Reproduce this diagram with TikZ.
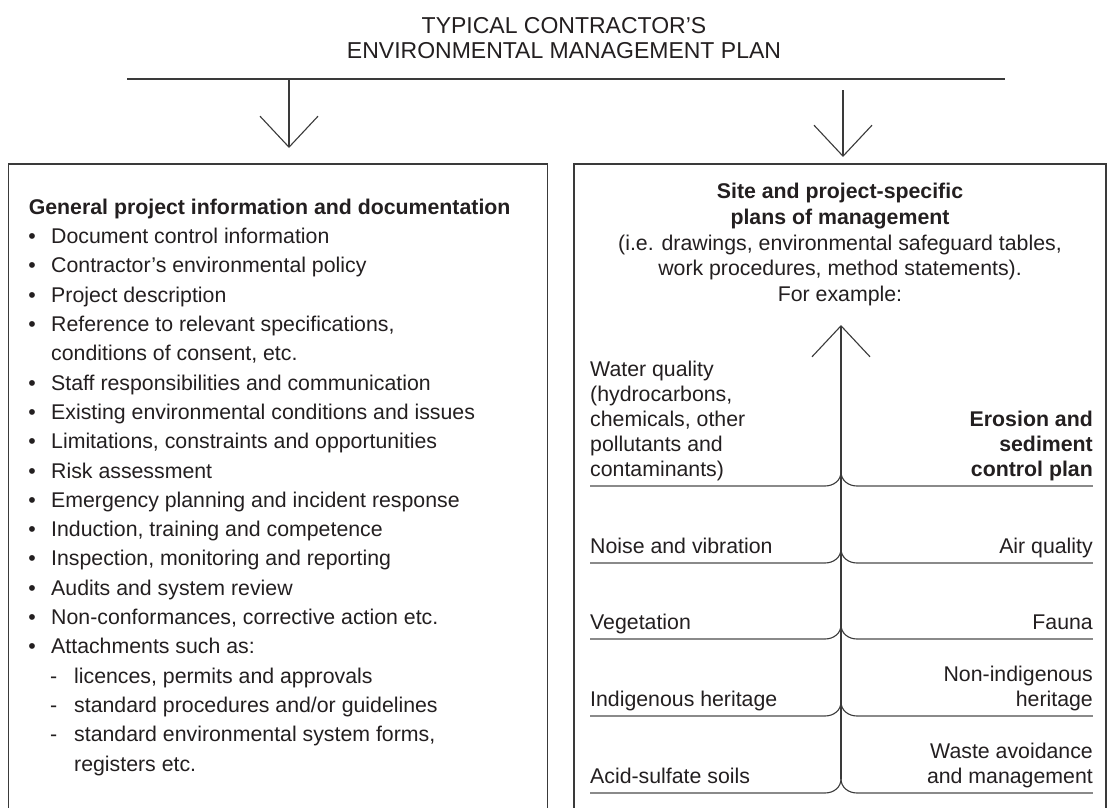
\documentclass[tikz,border=0pt]{standalone}
\usepackage{fontspec}
\setmainfont{Liberation Sans}
\usetikzlibrary{arrows.meta}
\definecolor{ink}{HTML}{231F20}
\definecolor{rulec}{HTML}{3A3A3A}
\definecolor{branchc}{HTML}{8A8A8A}
\begin{document}
\begin{tikzpicture}[x=1pt,y=-1pt,
  txt/.style={inner sep=0pt, text=ink, font=\fontsize{21.3}{25}\selectfont},
  hd/.style={inner sep=0pt, text=ink, font=\fontsize{21.3}{25}\selectfont\bfseries},
  ttl/.style={inner sep=0pt, text=ink, font=\fontsize{23}{25}\selectfont},
  frame/.style={draw=rulec, line width=1.3pt},
  link/.style={draw=rulec, line width=1.1pt},
  vee/.style={link, -{Straight Barb[length=31pt,width=58pt]}},
  branch/.style={draw=branchc, line width=1.8pt},
  merge/.style={draw=rulec, line width=1.1pt}]
\useasboundingbox (0,0) rectangle (1108,808);
\fill[white] (0,0) rectangle (1108,808);

% title
\node[ttl, anchor=base] (t1) at (564,33.2) {TYPICAL CONTRACTOR’S};
\node[ttl, anchor=base] (t2) at (564,58.3) {ENVIRONMENTAL MANAGEMENT PLAN};

\coordinate (hl) at (127,79);
\coordinate (hr) at (1005,79);
\draw[link] (hl) -- (hr);

% arrows down
\coordinate (a1s) at (289,79);
\coordinate (a1e) at (289,148);
\draw[vee] (a1s) -- (a1e);
\coordinate (a2s) at (843,90);
\coordinate (a2e) at (843,157);
\draw[vee] (a2s) -- (a2e);

% boxes (open at the bottom edge of the picture)
\draw[frame] (8.5,810) |- (547.5,164) -- (547.5,810);
\draw[frame] (574,810) |- (1106,164) -- (1106,810);

% left box text
\node[hd, anchor=base west] (gen) at (28.6,214.3) {General project information and documentation};
\foreach \yy in {243.6,272.9,302.2,331.5,390.1,419.4,448.7,478.0,507.3,536.6,565.9,595.2,624.5,653.8}
  \node[txt, anchor=base] at (32,\yy) {•};
\foreach \yy in {683.1,712.4,741.7}
  \node[txt, anchor=base] at (53.6,\yy) {-};
\node[txt, anchor=base west] (l1) at (51,243.6) {Document control information};
\node[txt, anchor=base west] (l2) at (51,272.9) {Contractor’s environmental policy};
\node[txt, anchor=base west] (l3) at (51,302.2) {Project description};
\node[txt, anchor=base west] (l4) at (51,331.5) {Reference to relevant specifications,};
\node[txt, anchor=base west] (l5) at (51,360.8) {conditions of consent, etc.};
\node[txt, anchor=base west] (l6) at (51,390.1) {Staff responsibilities and communication};
\node[txt, anchor=base west] (l7) at (51,419.4) {Existing environmental conditions and issues};
\node[txt, anchor=base west] (l8) at (51,448.7) {Limitations, constraints and opportunities};
\node[txt, anchor=base west] (l9) at (51,478.0) {Risk assessment};
\node[txt, anchor=base west] (l10) at (51,507.3) {Emergency planning and incident response};
\node[txt, anchor=base west] (l11) at (51,536.6) {Induction, training and competence};
\node[txt, anchor=base west] (l12) at (51,565.9) {Inspection, monitoring and reporting};
\node[txt, anchor=base west] (l13) at (51,595.2) {Audits and system review};
\node[txt, anchor=base west] (l14) at (51,624.5) {Non-conformances, corrective action etc.};
\node[txt, anchor=base west] (l15) at (51,653.8) {Attachments such as:};
\node[txt, anchor=base west] (l16) at (74,683.1) {licences, permits and approvals};
\node[txt, anchor=base west] (l17) at (74,712.4) {standard procedures and/or guidelines};
\node[txt, anchor=base west] (l18) at (74,741.7) {standard environmental system forms,};
\node[txt, anchor=base west] (l19) at (74,771.0) {registers etc.};

% right box header
\node[hd, anchor=base] (rh1) at (840,198.5) {Site and project-specific};
\node[hd, anchor=base] (rh2) at (840,224.3) {plans of management};
\node[txt, anchor=base] (rh3) at (840,250.1) {(i.e. drawings, environmental safeguard tables,};
\node[txt, anchor=base] (rh4) at (840,275.9) {work procedures, method statements).};
\node[txt, anchor=base] (rh5) at (840,301.7) {For example:};

% trunk
\coordinate (trunkbot) at (841,779);
\coordinate (trunktop) at (841,325);
\draw[vee] (trunkbot) -- (trunktop);

% branches
\foreach \yy in {486,563,639,716,793} {
  \draw[branch] (590,\yy) -- (825,\yy);
  \draw[branch] (857,\yy) -- (1093,\yy);
  \draw[merge] (825,\yy) .. controls (834,\yy) and (841,\yy-6) .. (841,\yy-14);
  \draw[merge] (857,\yy) .. controls (848,\yy) and (841,\yy-6) .. (841,\yy-14);
}

% left column labels
\node[txt, anchor=base west] (w1) at (590,376) {Water quality};
\node[txt, anchor=base west] (w2) at (590,401) {(hydrocarbons,};
\node[txt, anchor=base west] (w3) at (590,426) {chemicals, other};
\node[txt, anchor=base west] (w4) at (590,451) {pollutants and};
\node[txt, anchor=base west] (w5) at (590,476) {contaminants)};
\node[txt, anchor=base west] (noise) at (590,553) {Noise and vibration};
\node[txt, anchor=base west] (veg) at (590,629) {Vegetation};
\node[txt, anchor=base west] (indig) at (590,706) {Indigenous heritage};
\node[txt, anchor=base west] (acid) at (590,783) {Acid-sulfate soils};

% right column labels
\node[hd, anchor=base east] (e1) at (1093,426) {Erosion and};
\node[hd, anchor=base east] (e2) at (1093,451) {sediment};
\node[hd, anchor=base east] (e3) at (1093,476) {control plan};
\node[txt, anchor=base east] (air) at (1093,553) {Air quality};
\node[txt, anchor=base east] (fauna) at (1093,629) {Fauna};
\node[txt, anchor=base east] (ni1) at (1093,681) {Non-indigenous};
\node[txt, anchor=base east] (ni2) at (1093,706) {heritage};
\node[txt, anchor=base east] (wa1) at (1093,758) {Waste avoidance};
\node[txt, anchor=base east] (wa2) at (1093,783) {and management};
\end{tikzpicture}
\end{document}
